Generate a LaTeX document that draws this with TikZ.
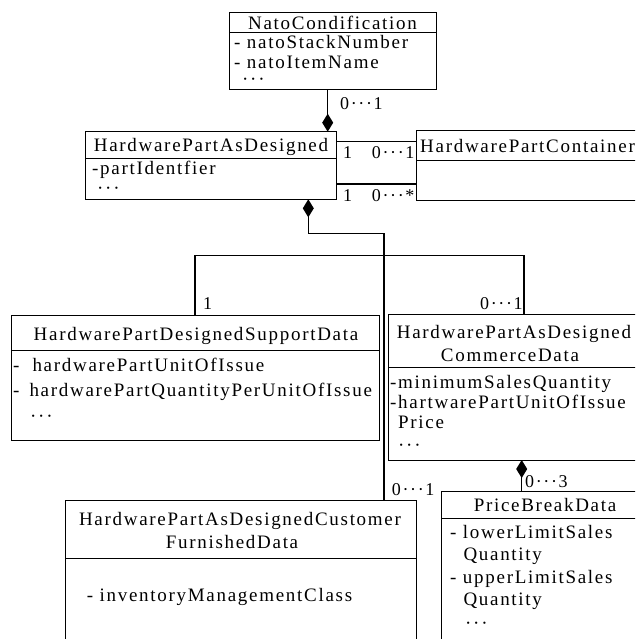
\documentclass[tikz,border=0pt]{standalone}
\usepackage{fontspec}
\setmainfont{Liberation Serif}[LetterSpace=9]
\usetikzlibrary{arrows.meta}
\newcommand{\bigfs}{\fontsize{19}{23}\selectfont}
\newcommand{\multfs}{\fontsize{18}{22}\selectfont}
\begin{document}
\begin{tikzpicture}[x=1pt,y=-1pt,
  box/.style={draw, line width=1pt, inner sep=0pt, outer sep=0pt, anchor=north west},
  sepline/.style={line width=1pt},
  conn/.style={line width=1.2pt},
  agg/.style={line width=1.4pt, {Diamond[length=18pt,width=11pt]}-},
  lab/.style={inner sep=0pt, anchor=base west, font=\bigfs},
  ttl/.style={inner sep=0pt, anchor=base, font=\bigfs},
  mult/.style={inner sep=0pt, anchor=base west, font=\multfs}]
\useasboundingbox (0,0) rectangle (635,639);
\clip (0,0) rectangle (635,639);
\fill[white] (0,0) rectangle (635,639);

% boxes
\node[box, minimum width=207pt, minimum height=76.6pt] (nato) at (229,12.7) {};
\node[box, minimum width=251.7pt, minimum height=67.6pt] (hpad) at (85,131.7) {};
\node[box, minimum width=240pt, minimum height=69pt] (cont) at (416,131) {};
\node[box, minimum width=367.3pt, minimum height=124.5pt] (supp) at (11.7,315.5) {};
\node[box, minimum width=250pt, minimum height=145.7pt] (comm) at (388.3,314.3) {};
\node[box, minimum width=206pt, minimum height=200pt] (price) at (441.7,491.7) {};
\node[box, minimum width=351.7pt, minimum height=200pt] (cust) at (65,500) {};

% header separators
\draw[sepline] (nato.west |- 0,32.7) -- (nato.east |- 0,32.7);
\draw[sepline] (hpad.west |- 0,158.3) -- (hpad.east |- 0,158.3);
\draw[sepline] (cont.west |- 0,160.7) -- (cont.east |- 0,160.7);
\draw[sepline] (supp.west |- 0,350.7) -- (supp.east |- 0,350.7);
\draw[sepline] (comm.west |- 0,367.3) -- (comm.east |- 0,367.3);
\draw[sepline] (price.west |- 0,518.3) -- (price.east |- 0,518.3);
\draw[sepline] (cust.west |- 0,558.3) -- (cust.east |- 0,558.3);

% texts
\node[ttl] (natoT) at (332.5,29.3) {NatoCondification};
\node[lab] (natoA1) at (234,48.3) {- natoStackNumber};
\node[lab] (natoA2) at (234,68.3) {- natoItemName};
\node[lab] (natoA3) at (242,85.4) {···};

\node[ttl] (hpadT) at (211,151.7) {HardwarePartAsDesigned};
\node[lab] (hpadA1) at (92,175) {-partIdentfier};
\node[lab] (hpadA2) at (97,194.4) {···};

\node[lab] (contT) at (420,152.3) {HardwarePartContainer};

\node[ttl] (suppT) at (196,340) {HardwarePartDesignedSupportData};
\node[lab] (suppA1) at (13,371.7) {-\hspace{13pt}hardwarePartUnitOfIssue};
\node[lab] (suppA2) at (13,396.7) {-\hspace{10pt}hardwarePartQuantityPerUnitOfIssue};
\node[lab] (suppA3) at (30,422.4) {···};

\node[ttl] (commT1) at (514,338.3) {HardwarePartAsDesigned};
\node[ttl] (commT2) at (510,361.7) {CommerceData};
\node[lab] (commA1) at (390,388.3) {-minimumSalesQuantity};
\node[lab] (commA2) at (390,408.3) {-hartwarePartUnitOfIssue};
\node[lab] (commA3) at (398,428.3) {Price};
\node[lab] (commA4) at (398,451) {···};

\node[ttl] (priceT) at (545,511.7) {PriceBreakData};
\node[lab] (priceA1) at (450,538.3) {- lowerLimitSales};
\node[lab] (priceA2) at (463.3,560) {Quantity};
\node[lab] (priceA3) at (450,583.3) {- upperLimitSales};
\node[lab] (priceA4) at (463.3,605) {Quantity};
\node[lab] (priceA5) at (465,629) {···};

\node[ttl] (custT1) at (240,525) {HardwarePartAsDesignedCustomer};
\node[ttl] (custT2) at (232,548.3) {FurnishedData};
\node[lab] (custA1) at (86.7,601.7) {- inventoryManagementClass};

% connectors
\draw[agg] (327.7,0 |- hpad.north) -- (327.7,0 |- nato.south);
\coordinate (a1) at (hpad.north east |- 0,141.7);
\draw[conn] (a1) -- (a1 -| cont.west);
\coordinate (a2) at (hpad.north east |- 0,184);
\draw[conn] (a2) -- (a2 -| cont.west);
\coordinate (j1) at (308.3,233.3);
\coordinate (j2) at (384,233.3);
\draw[agg] (j1 |- hpad.south) -- (j1) -- (j2) -- (j2 |- cust.north);
\coordinate (b1) at (195,255.7);
\coordinate (b2) at (524,255.7);
\draw[conn] (b1 |- supp.north) -- (b1) -- (b2) -- (b2 |- comm.north);
\draw[agg] (521.7,0 |- comm.south) -- (521.7,0 |- price.north);

% multiplicities
\node[mult] (m1) at (340,110) {0···1};
\node[mult] (m2) at (343,158.3) {1};
\node[mult] (m3) at (371.7,158.3) {0···1};
\node[mult] (m4) at (343,201.7) {1};
\node[mult] (m5) at (371.7,201.7) {0···*};
\node[mult] (m6) at (203,309.3) {1};
\node[mult] (m7) at (480,309.3) {0···1};
\node[mult] (m8) at (391.7,495) {0···1};
\node[mult] (m9) at (525,487.7) {0···3};
\end{tikzpicture}
\end{document}
